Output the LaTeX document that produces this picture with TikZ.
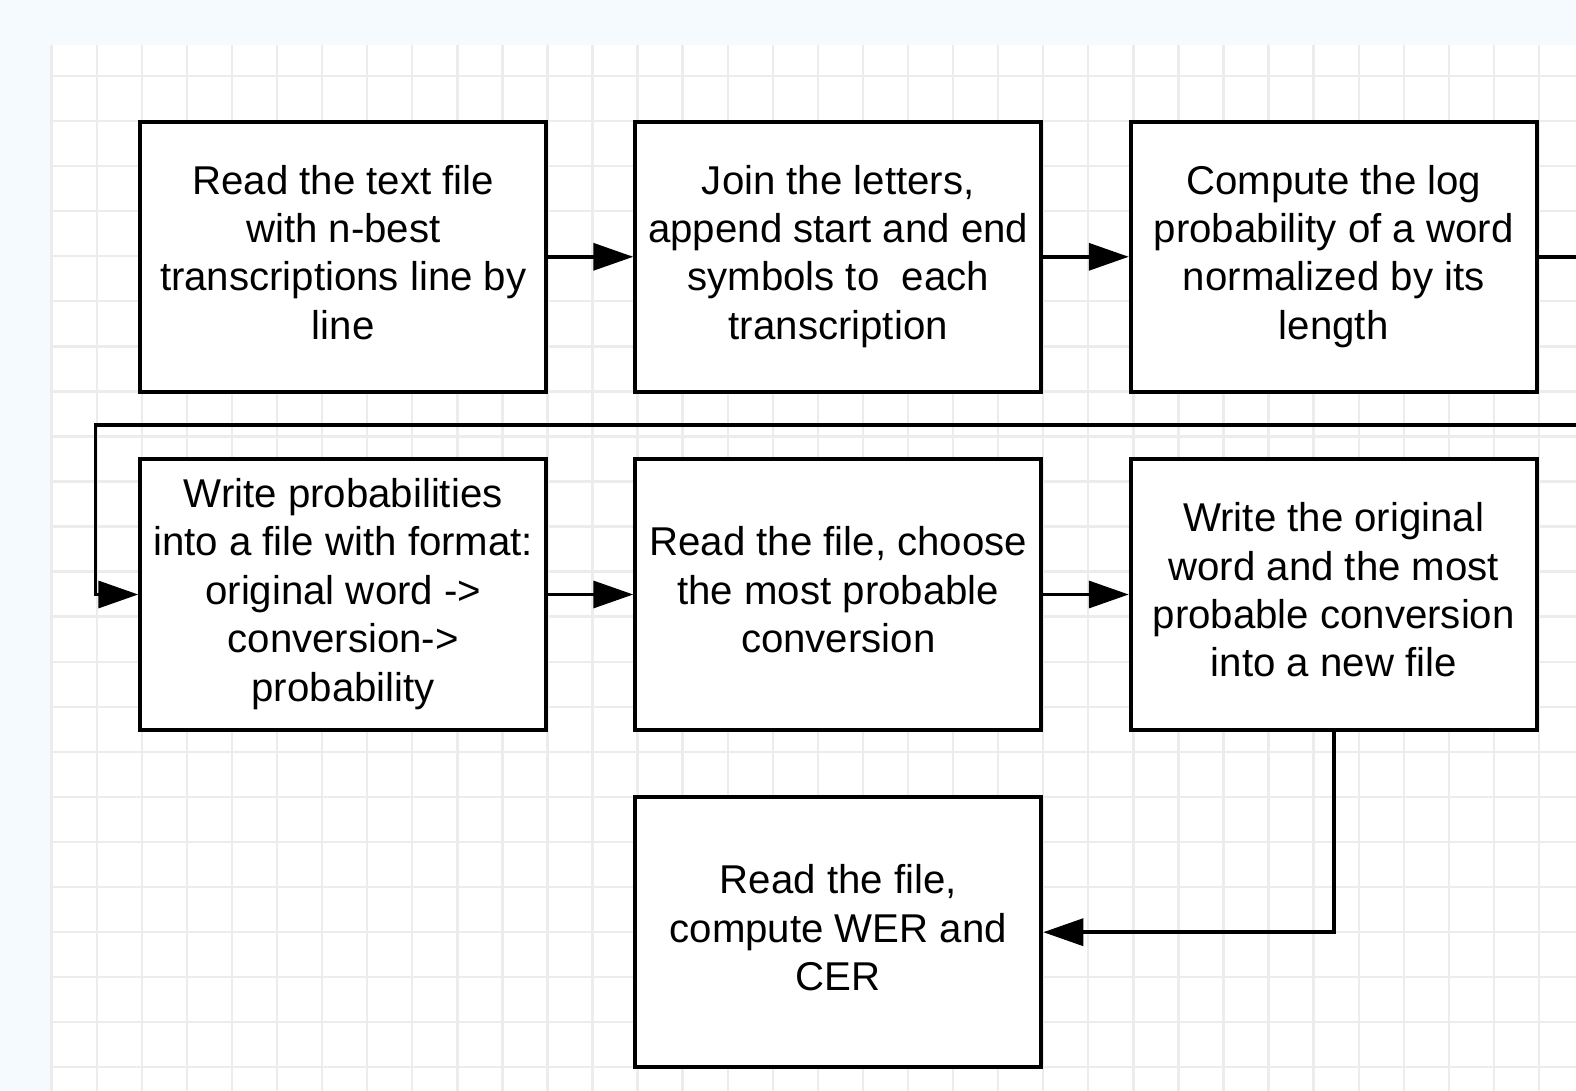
\documentclass[tikz,border=0pt]{standalone}
\usepackage{fontspec}
\setmainfont{Liberation Sans}
\usetikzlibrary{arrows.meta}
\definecolor{bgblue}{HTML}{F5FAFE}
\definecolor{gridgray}{HTML}{ECECEC}
\newcommand\boxstrut{\rule[-4.7pt]{0pt}{21.6pt}}
\tikzset{
  gridline/.style={draw=gridgray, line width=1.2pt},
  stepbox/.style={draw=black, fill=white, line width=2pt, minimum width=203pt, minimum height=135pt,
    align=center, inner sep=0pt, font=\fontsize{20.1pt}{24.2pt}\selectfont,
    execute at begin node=\boxstrut, execute at end node=\boxstrut},
  conn/.style={draw=black, line width=1.75pt, -{Triangle[length=20pt,width=13.5pt]}}
}
\begin{document}
\begin{tikzpicture}[x=0.5pt,y=-0.5pt]
\useasboundingbox (0,0) rectangle (1576,1091);
\fill[bgblue] (0,0) rectangle (1576,1091);
\fill[white] (51.7,45) rectangle (1576,1091);
\foreach \i in {1,...,34} { \draw[gridline] ({6.6+45.07*\i},45) -- ({6.6+45.07*\i},1091); }
\foreach \j in {1,...,23} { \draw[gridline] (51.7,{31+45.05*\j}) -- (1576,{31+45.05*\j}); }

\node[stepbox] (b1) at (343.25,256.8) {Read the text file\\with n-best\\transcriptions line by\\line};
\node[stepbox] (b2) at (838.25,256.8) {Join the letters,\\append start and end\\symbols to\ \ each\\transcription};
\node[stepbox] (b3) at (1333.75,256.8) {Compute the log\\probability of a word\\normalized by its\\length};
\node[stepbox] (b4) at (343.25,594.5) {Write probabilities\\into a file with format:\\original word ->\\conversion->\\probability};
\node[stepbox] (b5) at (838.25,594.5) {Read the file, choose\\the most probable\\conversion};
\node[stepbox] (b6) at (1333.75,594.5) {Write the original\\word and the most\\probable conversion\\into a new file};
\node[stepbox] (b7) at (838.25,932.2) {Read the file,\\compute WER and\\CER};

\coordinate (loopL) at (95.5,425.2);
\draw[conn] (b1) -- (b2);
\draw[conn] (b2) -- (b3);
\draw[conn] (b3.east) -- ++(70,0) |- (loopL) |- (b4.west);
\draw[conn] (b4) -- (b5);
\draw[conn] (b5) -- (b6);
\draw[conn] (b6.south) |- (b7.east);
\end{tikzpicture}
\end{document}
